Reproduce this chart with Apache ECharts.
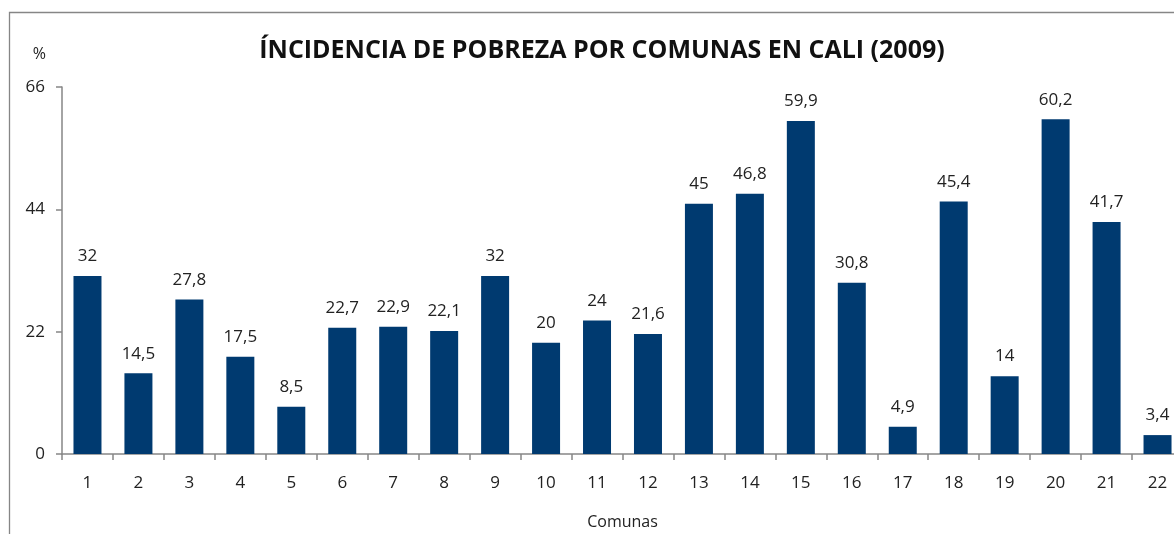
<!DOCTYPE html>
<html>
<head>
<meta charset="utf-8">
<script src="https://cdn.jsdelivr.net/npm/echarts@6/dist/echarts.min.js"></script>
<style>
  html, body { margin: 0; padding: 0; background: #fff; }
  #chart { width: 1174px; height: 534px; }
</style>
</head>
<body>
<div id="chart"></div>
<script>
const comunas = ['1', '2', '3', '4', '5', '6', '7', '8', '9', '10', '11', '12', '13', '14', '15', '16', '17', '18', '19', '20', '21', '22'];
const pobreza = [32, 14.5, 27.8, 17.5, 8.5, 22.7, 22.9, 22.1, 32, 20, 24, 21.6, 45, 46.8, 59.9, 30.8, 4.9, 45.4, 14, 60.2, 41.7, 3.4];
const yTicks = [0, 22, 44, 66];

const font = '"Open Sans", "Noto Sans", sans-serif';
const axisGrey = '#868686';

const chart = echarts.init(document.getElementById('chart'));
chart.setOption({
    animation: false,
    textStyle: { fontFamily: font },
    title: {
        text: 'ÍNCIDENCIA DE POBREZA POR COMUNAS EN CALI (2009)',
        left: 597,
        textAlign: 'center',
        top: 33,
        textStyle: { fontSize: 25, fontWeight: 'bold', color: '#111', fontFamily: font }
    },
    graphic: [{
        type: 'rect',
        shape: { x: 9.5, y: 12.5, width: 1200, height: 600 },
        style: { fill: 'none', stroke: axisGrey, lineWidth: 1.3 },
        silent: true
    }],
    grid: { left: 62, width: 1121, top: 87, bottom: 80, outerBoundsMode: 'none', containLabel: false },
    xAxis: {
        type: 'category',
        data: comunas,
        name: 'Comunas',
        nameLocation: 'middle',
        nameGap: 60,
        nameTextStyle: { fontSize: 16, color: '#222' },
        axisLine: { lineStyle: { color: axisGrey, width: 1.5 } },
        axisTick: { show: true, length: 6, lineStyle: { color: axisGrey, width: 1.5 } },
        axisLabel: { fontSize: 17, color: '#222', margin: 21 }
    },
    yAxis: {
        type: 'value',
        min: yTicks[0],
        max: yTicks[yTicks.length - 1],
        interval: 22,
        name: '%',
        nameLocation: 'end',
        nameGap: 25,
        nameTextStyle: { fontSize: 16, color: '#222', align: 'right', padding: [0, 16, 0, 0] },
        axisLine: { show: true, lineStyle: { color: axisGrey, width: 1.5 } },
        axisTick: { show: true, length: 6, lineStyle: { color: axisGrey, width: 1.5 } },
        axisLabel: { fontSize: 17, color: '#222', margin: 17 },
        splitLine: { show: false }
    },
    series: [{
        type: 'bar',
        data: pobreza,
        barWidth: 28,
        itemStyle: { color: '#003a70' },
        label: {
            show: true,
            position: 'top',
            distance: 11,
            fontSize: 17,
            color: '#222',
            formatter: p => String(p.value).replace('.', ',')
        }
    }]
});
</script>
</body>
</html>
